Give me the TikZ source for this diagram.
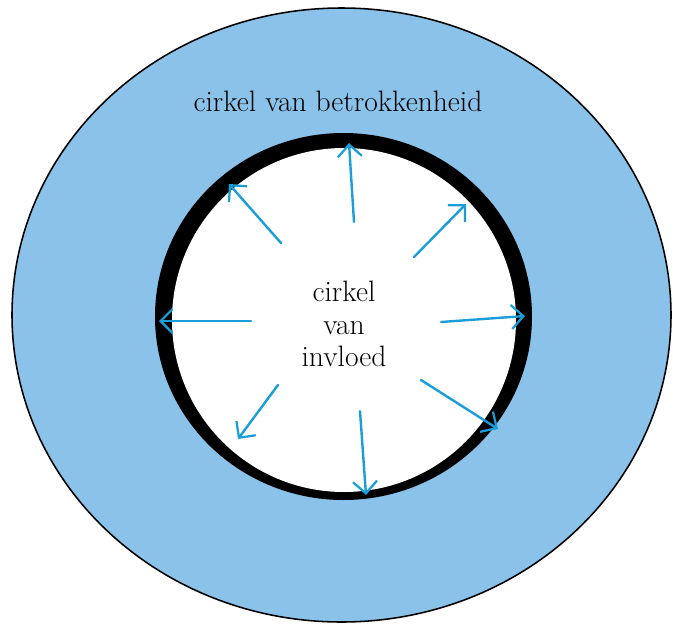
\documentclass[tikz,border=0pt]{standalone}
\usetikzlibrary{arrows.meta}
\definecolor{RingBlue}{HTML}{8AC2E9}
\definecolor{ArrowBlue}{HTML}{1A9EDA}

\begin{document}
\begin{tikzpicture}[x=0.025cm,y=-0.025cm,line cap=round,line join=round,
  pijl/.style={draw=ArrowBlue,line width=1.7pt,-{Straight Barb[length=3mm,width=6mm,line width=1.6pt]}},
  label/.style={font=\fontsize{21}{23}\selectfont,align=center,inner sep=0pt}]
  \useasboundingbox (0,0) rectangle (673,627);
  % circle of concern, then circle of influence
  \draw[fill=RingBlue,line width=1.1pt] (341.5,315) ellipse [x radius=329.5,y radius=307];
  \fill[black] (343.5,316.5) ellipse [x radius=188.5,y radius=183.5];
  \fill[white] (344,320) ellipse [x radius=172,y radius=172];
  \node[label] (betrokken) at (338,101) {cirkel van betrokkenheid};
  \node[label] (invloed) at (344,324) {cirkel\\van\\invloed};
  \foreach \n/\sx/\sy/\tx/\ty in {1/354/222/349/143, 2/281/243/229/184, 3/414/257/466/204,
    4/251/321/159/321, 5/441/322/525/316, 6/278/385/238/439, 7/360/411/366/495, 8/421/380/498/429}{
    \coordinate (s\n) at (\sx,\sy); \coordinate (t\n) at (\tx,\ty);
    \draw[pijl] (s\n) -- (t\n);
  }
\end{tikzpicture}
\end{document}
